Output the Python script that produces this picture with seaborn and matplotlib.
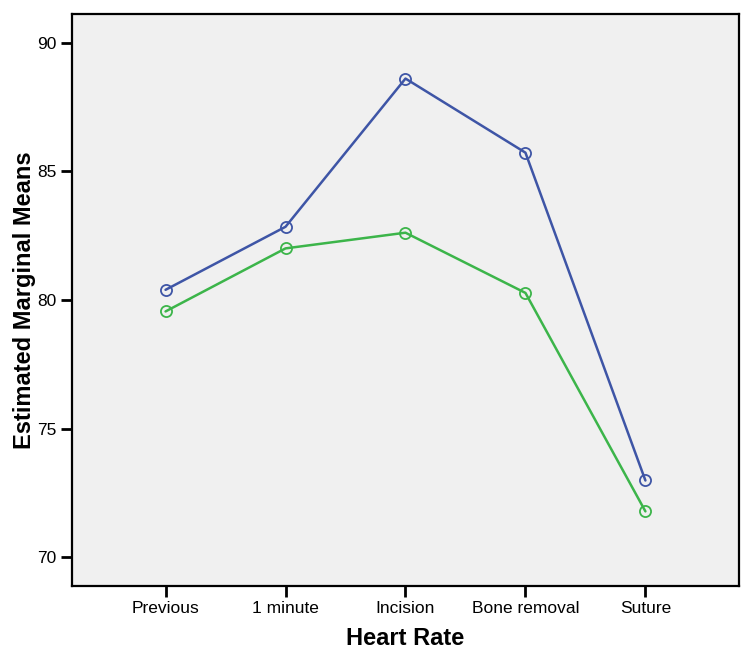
import pandas as pd
import matplotlib
matplotlib.use("Agg")
import matplotlib.pyplot as plt
import seaborn as sns

stages = ["Previous", "1 minute", "Incision", "Bone removal", "Suture"]
group_a = [80.39, 82.84, 88.60, 85.72, 72.98]
group_b = [79.55, 82.00, 82.61, 80.27, 71.78]
groups = ["Group 1", "Group 2"]
colors = ["#3e55a6", "#3cb54a"]

df = pd.DataFrame({
    "stage": stages * 2,
    "mean": group_a + group_b,
    "group": [groups[0]] * len(stages) + [groups[1]] * len(stages),
})

sns.set_style("ticks")
plt.rcParams["font.family"] = ["Liberation Sans", "DejaVu Sans"]

fig = plt.figure(figsize=(7.56, 6.62), dpi=100)
ax = fig.add_axes([0.0952, 0.1148, 0.8823, 0.8641])
ax.set_facecolor("#f0f0f0")

sns.lineplot(data=df, x="stage", y="mean", hue="group", palette=colors,
             marker="o", markersize=8, linewidth=1.8,
             legend=False, ax=ax)
# open circles in the line colour
for line in ax.get_lines():
    c = line.get_color()
    line.set_markerfacecolor("none")
    line.set_markeredgecolor(c)
    line.set_markeredgewidth(1.3)

ax.set_xlim(-0.78, 4.78)
ax.set_ylim(68.88, 91.11)
ax.set_yticks([70, 75, 80, 85, 90])
ax.set_xticks(range(len(stages)))
ax.set_xticklabels(stages)
ax.tick_params(axis="both", direction="out", length=8, width=2, labelsize=12.5,
               color="black", labelcolor="black", pad=3)
for s in ax.spines.values():
    s.set_linewidth(1.6)
    s.set_color("black")
    s.set_visible(True)

ax.set_xlabel("Heart Rate", fontsize=17, fontweight="bold", labelpad=8, color="black")
ax.set_ylabel("Estimated Marginal Means", fontsize=17, fontweight="bold", labelpad=1, color="black")

fig.savefig("out.png", dpi=100, facecolor="white")
